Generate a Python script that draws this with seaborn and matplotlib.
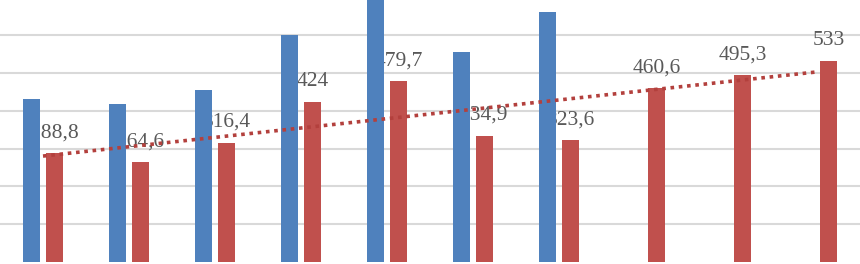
import numpy as np
import pandas as pd
import seaborn as sns
import matplotlib.pyplot as plt

# values (no axis labels visible, categories are just positions)
categories = ["1", "2", "3", "4", "5", "6", "7", "8", "9", "10"]
blue_vals = [432.6, 417.7, 456.4, 600.0, 710.0, 556.0, 663.0, np.nan, np.nan, np.nan]
red_vals = [288.8, 264.6, 316.4, 424.0, 479.7, 334.9, 323.6, 460.6, 495.3, 533.0]

df = pd.DataFrame({
    "cat": categories * 2,
    "series": ["A"] * len(categories) + ["B"] * len(categories),
    "value": blue_vals + red_vals,
})

sns.set_style("white")
plt.rcParams["font.family"] = ["Liberation Serif", "DejaVu Serif"]

fig = plt.figure(figsize=(8.6, 2.64), dpi=100)
ax = fig.add_axes([0, 0, 1, 1])

sns.barplot(data=df, x="cat", y="value", hue="series",
            palette=["#4F81BD", "#C0504D"], saturation=1, width=0.535, gap=0.22,
            linewidth=0, legend=False, ax=ax)
for p in ax.patches:
    p.set_zorder(2)

# data labels on the red series (sit under the bars, like the original)
off = 0.535 / 4
for i, v in enumerate(red_vals):
    txt = f"{v:g}".replace(".", ",")
    ax.annotate(txt, (i + off, v), xytext=(0, 14.5), textcoords="offset points",
                ha="center", va="center", fontsize=15.5, color="#595959", zorder=1)

# linear trendline for the red series
trend = pd.DataFrame({"x": np.arange(len(red_vals)), "y": red_vals})
sns.regplot(data=trend, x="x", y="y", scatter=False, ci=None, truncate=True,
            ax=ax, line_kws=dict(color="#B3403D", lw=2.6, linestyle=(0, (1, 1.3)),
                                 zorder=3, dash_capstyle="butt"))

ax.set_xlim(-0.5, 9.5)
ax.set_ylim(-5.3, 694)
ax.set_yticks([100, 200, 300, 400, 500, 600])
ax.yaxis.grid(True, color="#D9D9D9", lw=1.5)
ax.set_axisbelow(True)
ax.set_xticks([])
ax.tick_params(left=False, labelleft=False)
ax.set_xlabel("")
ax.set_ylabel("")
for s in ax.spines.values():
    s.set_visible(False)

plt.savefig("out.png", dpi=100)
